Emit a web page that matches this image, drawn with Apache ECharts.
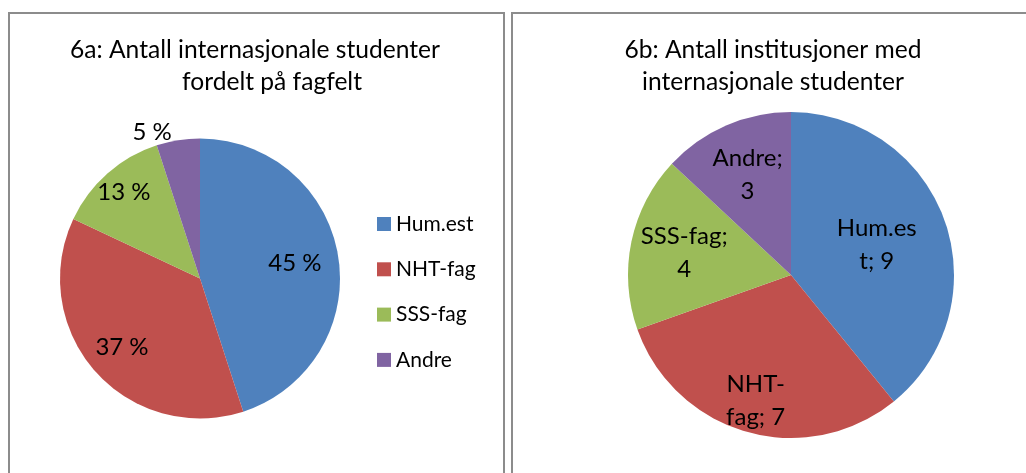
<!DOCTYPE html>
<html>
<head>
<meta charset="utf-8">
<script src="https://cdn.jsdelivr.net/npm/echarts@6/dist/echarts.min.js"></script>
<style>
  html, body { margin: 0; padding: 0; background: #fff; }
  .page { position: relative; width: 1026px; height: 473px; overflow: hidden; }
  .panel { position: absolute; top: 12px; height: 500px; border: 2px solid #8c8c8c; box-sizing: border-box; }
  .panel-a { left: 8px; width: 497px; }
  .panel-b { left: 511px; width: 530px; }
  .pie_charts { position: absolute; left: 0; top: 0; width: 1026px; height: 473px; }
</style>
</head>
<body>
<div class="page">
  <div class="panel panel-a"></div>
  <div class="panel panel-b"></div>
  <div class="pie_charts" id="charts"></div>
</div>
<script>
// 数据
const categories = ['Hum.est', 'NHT-fag', 'SSS-fag', 'Andre'];
const studentShare = [45, 37, 13, 5]; // 6a, prosent
const institutionCount = [9, 7, 4, 3]; // 6b, antall
// Excel-style wrapped labels for 6b
const institutionLabels = ['Hum.es\nt; {c}', 'NHT-\nfag; {c}', 'SSS-fag;\n{c}', 'Andre;\n{c}'];

const colors = ['#4F81BD', '#C0504D', '#9BBB59', '#8064A2'];
const fontFamily = 'Lato, "Open Sans", sans-serif';

// layout: pie centre / radius and how far from the centre each label sits
const pieALayout = { center: [200, 278.5], r: 140, labelDist: [93, 101, 112, null] };
const pieBLayout = { center: [791, 275], r: 163, labelDist: [88, 128, 106, 106] };

const charts = echarts.init(document.getElementById('charts'));

const labelText = {
  color: '#000',
  fontSize: 24,
  lineHeight: 33,
  fontFamily: fontFamily,
};

function basePie(layout, values, radius) {
  return {
    type: 'pie',
    center: layout.center,
    radius: radius,
    startAngle: 90,
    clockwise: true,
    avoidLabelOverlap: false,
    animation: false,
    labelLine: { show: false },
    data: categories.map((name, i) => ({ name: name, value: values[i] })),
  };
}

// the visible pie
function mainPie(layout, values) {
  const s = basePie(layout, values, [0, layout.r]);
  s.itemStyle = { borderWidth: 0 };
  s.label = { show: false };
  return s;
}

// transparent pie that only carries the label of slice idx, placed at labelDist
function labelPie(layout, values, idx, formatter) {
  const d = layout.labelDist[idx];
  const s = basePie(layout, values, [0, d * 2]);
  s.silent = true;
  s.itemStyle = { color: 'transparent' };
  s.label = { show: false };
  s.data[idx].label = { show: true, position: 'inside', formatter: formatter, ...labelText };
  return s;
}

const seriesList = [mainPie(pieALayout, studentShare), mainPie(pieBLayout, institutionCount)];

// smallest slice in 6a: label outside the pie
seriesList[0].data[3].label = { show: true, position: 'outside', formatter: '{c} %', ...labelText };
seriesList[0].data[3].labelLine = { show: false, length: 8, length2: 0 };

categories.forEach((c, i) => {
  if (pieALayout.labelDist[i]) seriesList.push(labelPie(pieALayout, studentShare, i, '{c} %'));
  seriesList.push(labelPie(pieBLayout, institutionCount, i, institutionLabels[i]));
});

const titleStyle = {
  color: '#000',
  fontSize: 24.6,
  fontWeight: 'normal',
  lineHeight: 32,
  fontFamily: fontFamily,
};

const option = {
  color: colors,
  animation: false,
  title: [
    { text: '6a: Antall internasjonale studenter', left: 255, top: 34, padding: 0, textAlign: 'center', textStyle: titleStyle },
    { text: 'fordelt på fagfelt', left: 272, top: 66, padding: 0, textAlign: 'center', textStyle: titleStyle },
    { text: '6b: Antall institusjoner med\ninternasjonale studenter', left: 773, top: 34, padding: 0, textAlign: 'center', textStyle: titleStyle },
  ],
  legend: {
    orient: 'vertical',
    left: 377,
    top: 213.5,
    padding: 0,
    itemWidth: 14,
    itemHeight: 14,
    itemGap: 24.3,
    icon: 'rect',
    data: categories,
    textStyle: {
      color: '#000',
      fontSize: 21,
      lineHeight: 21,
      fontFamily: fontFamily,
    },
  },
  series: seriesList,
};

charts.setOption(option);
</script>
</body>
</html>
